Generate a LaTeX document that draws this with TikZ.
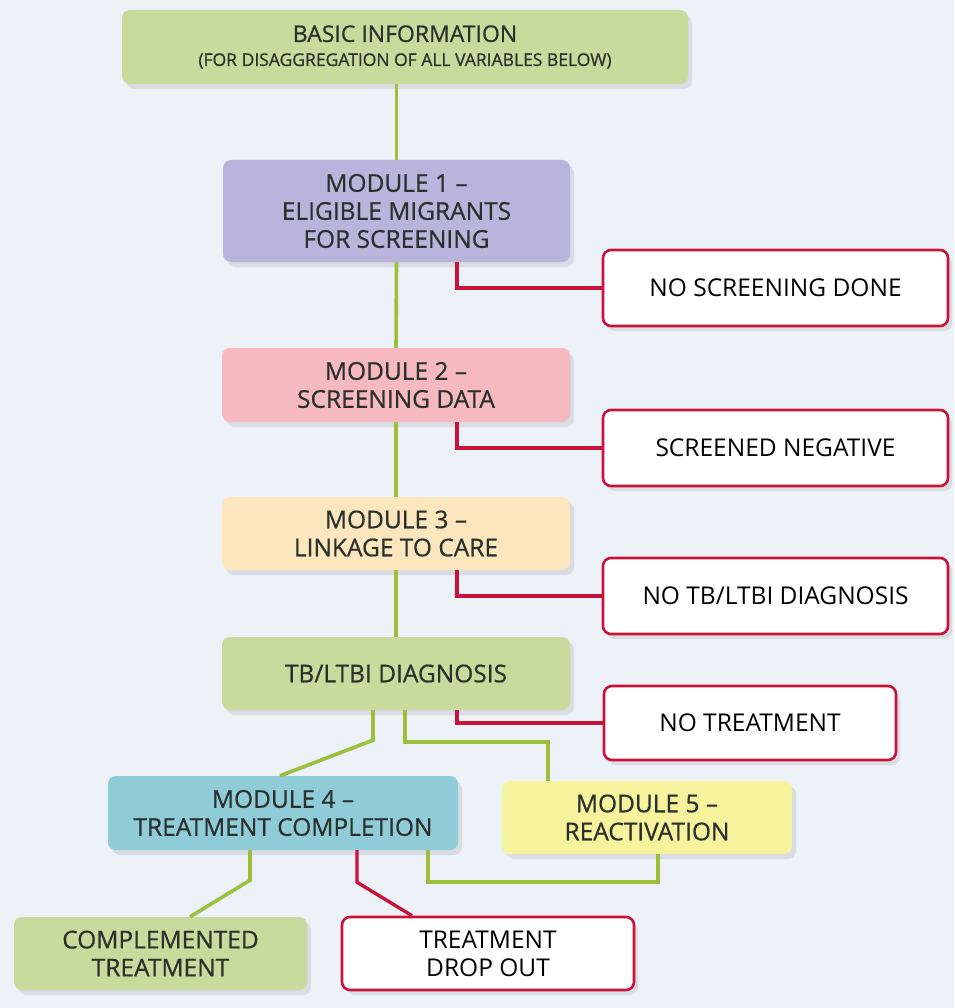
\documentclass[tikz,border=0pt]{standalone}
\usepackage{fontspec}
\setmainfont{Open Sans}
\newfontfamily\boxfont[FakeBold=0.6,Ligatures=TeX]{Open Sans}
\usetikzlibrary{shadows,calc}
\definecolor{bg}{HTML}{EDF1F8}
\definecolor{gfill}{HTML}{C6DB9C}
\definecolor{pfill}{HTML}{BAB4DC}
\definecolor{rfill}{HTML}{F6B9C0}
\definecolor{ofill}{HTML}{FCE6BE}
\definecolor{tfill}{HTML}{8FCCD7}
\definecolor{yfill}{HTML}{F7F29C}
\definecolor{gline}{HTML}{9DC03C}
\definecolor{rline}{HTML}{C8123A}
\definecolor{txt}{HTML}{2A302C}
\tikzset{
  x=1pt, y=-1pt,
  box/.style={rounded corners=8pt, align=center, inner sep=0pt, text=txt,
    font=\boxfont\fontsize{24.5}{28}\selectfont,
    drop shadow={opacity=0.18, shadow xshift=4pt, shadow yshift=-5pt}},
  wbox/.style={box, fill=white, draw=rline, line width=2.6pt, text=black,
    font=\fontsize{24.5}{28}\selectfont},
  gconn/.style={draw=gline, line width=3.6pt},
  rconn/.style={draw=rline, line width=3.4pt},
}
\begin{document}
\begin{tikzpicture}
\fill[bg] (0,0) rectangle (954,1008);
\useasboundingbox (0,0) rectangle (954,1008);
% nodes
\node[box, fill=gfill, minimum width=566pt, minimum height=74pt, font=\boxfont\fontsize{23}{28}\selectfont] (basic) at (405,47)
  {BASIC INFORMATION\\[-4pt]{\fontsize{17.5}{22}\selectfont(FOR DISAGGREGATION OF ALL VARIABLES BELOW)}};
\node[box, fill=pfill, minimum width=347pt, minimum height=102pt] (m1) at (396.5,211)
  {MODULE 1 –\\ELIGIBLE MIGRANTS\\FOR SCREENING};
\node[wbox, minimum width=345pt, minimum height=76pt] (ns) at (775.5,288) {NO SCREENING DONE};
\node[box, fill=rfill, minimum width=348pt, minimum height=74pt] (m2) at (396,385)
  {MODULE 2 –\\SCREENING DATA};
\node[wbox, minimum width=345pt, minimum height=76pt] (sn) at (775.5,448) {SCREENED NEGATIVE};
\node[box, fill=ofill, minimum width=348pt, minimum height=73pt] (m3) at (396,533.5)
  {MODULE 3 –\\LINKAGE TO CARE};
\node[wbox, minimum width=345pt, minimum height=76pt] (nd) at (775.5,596) {NO TB/LTBI DIAGNOSIS};
\node[box, fill=gfill, minimum width=348pt, minimum height=73pt] (tb) at (396,673.5)
  {TB/LTBI DIAGNOSIS};
\node[wbox, minimum width=292pt, minimum height=74pt] (nt) at (750,723) {NO TREATMENT};
\node[box, fill=tfill, minimum width=350pt, minimum height=74pt] (m4) at (283,813)
  {MODULE 4 –\\TREATMENT COMPLETION};
\node[box, fill=yfill, minimum width=290pt, minimum height=73pt] (m5) at (647,817.5)
  {MODULE 5 –\\REACTIVATION};
\node[box, fill=gfill, minimum width=293pt, minimum height=73pt] (ct) at (160.5,953.5)
  {COMPLEMENTED\\TREATMENT};
\node[wbox, minimum width=292pt, minimum height=73pt] (dr) at (488,953.5)
  {TREATMENT\\DROP OUT};
% green spine
\draw[gconn] (m1.north |- basic.south) -- (m1.north);
\draw[gconn] (m1.south) -- (m2.north);
\draw[gconn] (m2.south) -- (m3.north);
\draw[gconn] (m3.south) -- (tb.north);
% red branches
\draw[rconn] ([xshift=60.5pt]m1.south) |- (ns.west);
\draw[rconn] ([xshift=61pt]m2.south) |- (sn.west);
\draw[rconn] ([xshift=61pt]m3.south) |- (nd.west);
\draw[rconn] ([xshift=61pt]tb.south) |- (nt.west);
% TB to modules 4 and 5
\draw[gconn] ([xshift=9pt]tb.south) -- ++(0,32) -| ([xshift=-99pt]m5.north);
\draw[gconn] ([xshift=-23pt]tb.south) -- ++(0,30) -- ([xshift=-3pt]m4.north);
% module 4 outcomes
\draw[gconn] ([xshift=-33pt]m4.south) -- ++(0,30) -- ([xshift=29.5pt]ct.north);
\draw[rconn] ([xshift=74pt]m4.south) -- ++(0,32) -- ([xshift=-76pt]dr.north);
\draw[gconn] ([xshift=145pt]m4.south) -- ++(0,32) -| ([xshift=11pt]m5.south);
\end{tikzpicture}
\end{document}
